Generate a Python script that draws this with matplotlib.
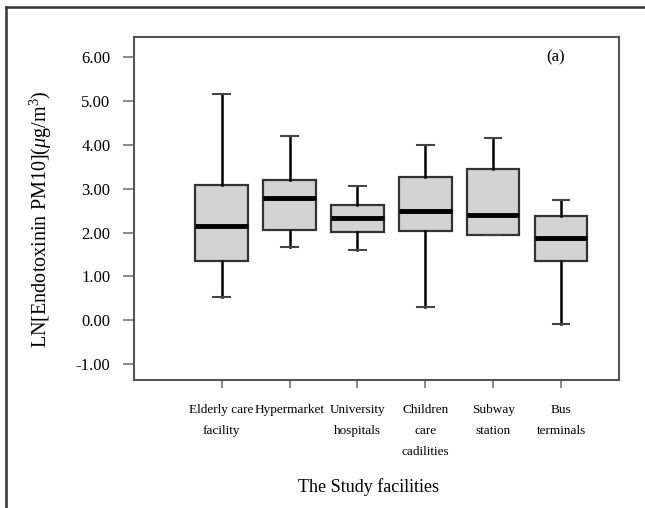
import matplotlib
matplotlib.use("Agg")
import matplotlib.pyplot as plt
from matplotlib.lines import Line2D

plt.rcParams['font.family'] = ['Liberation Serif', 'DejaVu Serif']
plt.rcParams['mathtext.fontset'] = 'custom'
plt.rcParams['mathtext.rm'] = 'Liberation Serif'
plt.rcParams['mathtext.it'] = 'Liberation Serif:italic'

categories = ["Elderly care\nfacility", "Hypermarket", "University\nhospitals",
              "Children\ncare\ncadilities", "Subway\nstation", "Bus\nterminals"]
whisker_low = [0.53, 1.68, 1.60, 0.31, 1.94, -0.08]
q1 = [1.35, 2.07, 2.02, 2.03, 1.94, 1.35]
median = [2.15, 2.78, 2.34, 2.50, 2.40, 1.87]
q3 = [3.08, 3.20, 2.63, 3.27, 3.44, 2.39]
whisker_high = [5.15, 4.20, 3.07, 3.99, 4.15, 2.74]
yticks = [-1, 0, 1, 2, 3, 4, 5, 6]

fig = plt.figure(figsize=(6.45, 5.08), dpi=100)
ax = fig.add_axes([134/645, 1-380/508, (619-134)/645, (380-37)/508])

stats = []
for i, lab in enumerate(categories):
    stats.append(dict(label=lab, whislo=whisker_low[i], q1=q1[i], med=median[i],
                      q3=q3[i], whishi=whisker_high[i], fliers=[]))

positions = list(range(1, len(categories)+1))
ax.bxp(stats, positions=positions, widths=0.77, patch_artist=True,
       showfliers=False,
       boxprops=dict(facecolor='#d3d3d3', edgecolor='#333333', linewidth=1.6),
       medianprops=dict(color='black', linewidth=3.5, solid_capstyle='butt'),
       whiskerprops=dict(color='black', linewidth=1.8),
       capprops=dict(color='#444444', linewidth=1.5),
       capwidths=0.24)

ax.set_xlim(-0.29, 6.85)
ax.set_ylim(-1.36, 6.46)
ax.set_xticks(positions)
ax.set_xticklabels(categories, fontsize=9.5)
ax.set_yticks(yticks)
ax.set_yticklabels([f"{v:.2f}" for v in yticks])
for s in ax.spines.values():
    s.set_color('#555555')
    s.set_linewidth(1.5)
ax.tick_params(axis='y', length=8, width=1.2, color='#777777', pad=9, labelsize=12)
ax.tick_params(axis='x', length=6, width=1.2, color='#777777', pad=11)
for tk in ax.xaxis.get_major_ticks():
    tk.label1.set_linespacing(2.0)

ax.text(0.87, 0.942, "(a)", transform=ax.transAxes, fontsize=12, ha='center', va='center')
ax.set_ylabel(r"LN[Endotoxinin PM10]($\mu$g/m$^3$)", fontsize=14.5)
ax.yaxis.set_label_coords(54/645, 1-219/508, transform=fig.transFigure)
fig.text(368/645, 1-487/508, "The Study facilities", fontsize=13, ha='center', va='center')

# outer frame
fig.add_artist(Line2D([6/645, 6/645], [0, 1-7/508], transform=fig.transFigure, color='#333333', lw=1.8))
fig.add_artist(Line2D([6/645, 1], [1-7/508, 1-7/508], transform=fig.transFigure, color='#333333', lw=1.8))

fig.savefig("out.png", dpi=100)
